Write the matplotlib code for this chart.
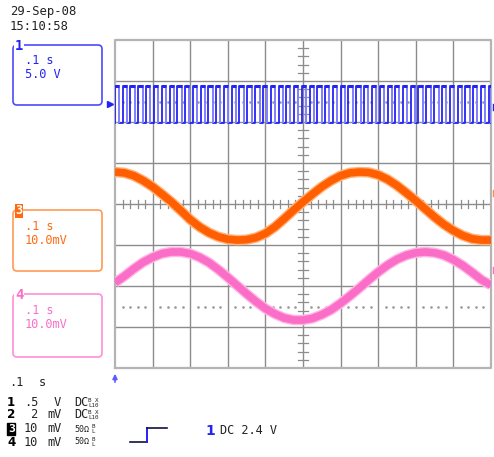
import matplotlib.pyplot as plt
from matplotlib.patches import FancyBboxPatch

# time axis: 10 divisions of 0.1 s, vertical: 8 divisions
rise_times = [0.000, 0.021, 0.041, 0.062, 0.083, 0.104, 0.124, 0.145, 0.166, 0.186,
              0.207, 0.228, 0.248, 0.269, 0.290, 0.311, 0.331, 0.352, 0.373, 0.393,
              0.414, 0.435, 0.455, 0.476, 0.497, 0.518, 0.538, 0.559, 0.580, 0.600,
              0.621, 0.642, 0.662, 0.683, 0.704, 0.725, 0.745, 0.766, 0.787, 0.807,
              0.828, 0.849, 0.869, 0.890, 0.911, 0.932, 0.952, 0.973, 0.994]
pulse_width = 0.0114
sq_high = 2.88
sq_low = 1.98

t_sine = [0.000, 0.025, 0.050, 0.075, 0.100, 0.125, 0.150, 0.175, 0.200, 0.225,
          0.250, 0.275, 0.300, 0.325, 0.350, 0.375, 0.400, 0.425, 0.450, 0.475,
          0.500, 0.525, 0.550, 0.575, 0.600, 0.625, 0.650, 0.675, 0.700, 0.725,
          0.750, 0.775, 0.800, 0.825, 0.850, 0.875, 0.900, 0.925, 0.950, 0.975, 1.000]
ch3 = [0.78, 0.76, 0.69, 0.57, 0.42, 0.24, 0.05, -0.16, -0.38, -0.56,
       -0.70, -0.80, -0.86, -0.88, -0.87, -0.82, -0.72, -0.56, -0.36, -0.15,
       0.05, 0.24, 0.42, 0.57, 0.69, 0.76, 0.78, 0.77, 0.71, 0.60,
       0.45, 0.27, 0.08, -0.12, -0.32, -0.50, -0.65, -0.77, -0.85, -0.88, -0.88]
ch4 = [-1.92, -1.76, -1.58, -1.42, -1.30, -1.21, -1.17, -1.17, -1.21, -1.30,
       -1.43, -1.60, -1.79, -1.99, -2.19, -2.38, -2.55, -2.68, -2.78, -2.83,
       -2.83, -2.79, -2.70, -2.58, -2.42, -2.24, -2.05, -1.85, -1.66, -1.49,
       -1.35, -1.25, -1.19, -1.17, -1.19, -1.25, -1.36, -1.50, -1.67, -1.85, -1.98]

BLUE = '#2323f5'
LBLUE = '#8a8aff'
ORANGE = '#ff5f00'
PINK = '#fa6ec8'
MONO = 'DejaVu Sans Mono'

fig = plt.figure(figsize=(4.94, 4.57), dpi=100)
fig.patch.set_facecolor('white')

# overlay in pixel coords for labels
ov = fig.add_axes([0, 0, 1, 1])
ov.set_xlim(0, 494)
ov.set_ylim(457, 0)
ov.axis('off')

ax = fig.add_axes([115 / 494, 1 - 368 / 457, 376 / 494, 328 / 457])
ax.set_xlim(0, 1.0)
ax.set_ylim(-4, 4)
ax.axis('off')
ax.patch.set_alpha(0)

# graticule
for i in range(1, 10):
    ax.axvline(i * 0.1, color='#8c8c8c', lw=1.0, zorder=1)
for j in range(-3, 4):
    ax.axhline(j, color='#8c8c8c', lw=1.0, zorder=1)
ax.plot([0, 1, 1, 0, 0], [-4, -4, 4, 4, -4], color='#b4b4b4', lw=1.6, zorder=1, clip_on=False)
minor_x = [k * 0.02 for k in range(1, 50) if k % 5]
minor_y = [k * 0.2 for k in range(-19, 20) if k % 5]
for x in minor_x:
    ax.plot([x, x], [-0.09, 0.09], color='#8c8c8c', lw=0.9, zorder=1)
    ax.plot([x], [2.5], marker='s', ms=0.8, color='#999999', zorder=1)
    ax.plot([x], [-2.5], marker='s', ms=0.8, color='#999999', zorder=1)
for y in minor_y:
    ax.plot([0.487, 0.513], [y, y], color='#8c8c8c', lw=0.9, zorder=1)

# channel 1 square wave
falls = [min(r + pulse_width, 1.0) for r in rise_times]
sx, sy = [], []
for r, f in zip(rise_times, falls):
    sx += [r, r, f, f]
    sy += [sq_low, sq_high, sq_high, sq_low]
sx.append(1.0)
sy.append(sq_low)
ax.plot(sx, sy, color=BLUE, lw=1.3, zorder=3)
ax.vlines(falls, sq_low, sq_high, color=LBLUE, lw=1.3, zorder=4)
ax.hlines([sq_high] * len(rise_times), rise_times, falls, color=BLUE, lw=2.2, zorder=4)

# channel 3 and 4
ax.plot(t_sine, ch3, color='#ffb27a', lw=7.5, solid_capstyle='butt', zorder=2)
ax.plot(t_sine, ch3, color=ORANGE, lw=5.5, solid_capstyle='butt', zorder=3)
ax.plot(t_sine, ch4, color='#ffb6e4', lw=7.5, solid_capstyle='butt', zorder=2)
ax.plot(t_sine, ch4, color=PINK, lw=5.5, solid_capstyle='butt', zorder=3)

# header
ov.text(10, 12, '29-Sep-08', family=MONO, fontsize=8.8, color='#222222', va='center')
ov.text(10, 27, '15:10:58', family=MONO, fontsize=8.8, color='#222222', va='center')


# channel boxes
def chan_box(y0, y1, col, tcol, num, line2, inverted=False):
    ov.add_patch(FancyBboxPatch((13, y0), 89, y1 - y0, boxstyle='round,pad=0,rounding_size=4',
                                fill=False, ec=col, lw=1.2))
    if inverted:
        ov.text(19, y0 + 1, num, family=MONO, fontsize=8.5, color='white', fontweight='bold',
                va='center', ha='center',
                bbox=dict(boxstyle='square,pad=0.05', fc=tcol, ec='none'))
    else:
        ov.text(19, y0 + 1, num, family=MONO, fontsize=10, color=tcol, fontweight='bold',
                va='center', ha='center', bbox=dict(boxstyle='square,pad=0.05', fc='white', ec='none'))
    ov.text(25, y0 + 16, '.1 s', family=MONO, fontsize=8.6, color=tcol, va='center')
    ov.text(25, y0 + 30, line2, family=MONO, fontsize=8.6, color=tcol, va='center')


chan_box(45, 105, '#4a4aff', BLUE, '1', '5.0 V')
chan_box(210, 271, '#ff9a55', '#ff6a10', '3', '10.0mV', inverted=True)
chan_box(294, 357, '#ff8fd6', PINK, '4', '10.0mV')

# trace markers
ov.plot([110], [104], marker='>', ms=5, color=BLUE)
ov.annotate('', xy=(115, 371), xytext=(115, 385),
            arrowprops=dict(arrowstyle='-|>', color='#5a5aff', lw=1.2, mutation_scale=7))
ov.plot([493, 493], [104, 110], color=BLUE, lw=1)
ov.plot([493, 493], [190, 196], color='#ff8a40', lw=1)
ov.plot([493, 493], [267, 273], color=PINK, lw=1)

# bottom info
ov.text(9, 382, '.1', family=MONO, fontsize=8.6, color='#222222', va='center')
ov.text(39, 382, 's', family=MONO, fontsize=8.6, color='#222222', va='center')
rows = [(403, '1', '.5', ' V', 'DC', 'B X\nL10'),
        (415, '2', ' 2', 'mV', 'DC', 'B X\nL10'),
        (429, '3', '10', 'mV', '50Ω', 'B\nL'),
        (442, '4', '10', 'mV', '50Ω', 'B\nL')]
for y, n, v, u, cpl, small in rows:
    if n == '3':
        ov.text(8, y, n, family=MONO, fontsize=8.2, color='white', fontweight='bold', va='center',
                bbox=dict(boxstyle='square,pad=0.05', fc='black', ec='black'))
    else:
        ov.text(7, y, n, family='DejaVu Sans', fontsize=8.6, color='black', fontweight='bold',
                va='center')
    ov.text(24, y, v, family=MONO, fontsize=8.6, color='#222222', va='center')
    ov.text(47, y, u, family=MONO, fontsize=8.6, color='#222222', va='center')
    if cpl == 'DC':
        ov.text(74, y, 'DC', family=MONO, fontsize=8.6, color='#222222', va='center')
        ov.text(88, y, small, family=MONO, fontsize=4.2, color='#222222', va='center',
                linespacing=0.9)
    else:
        ov.text(74, y, '50Ω', family=MONO, fontsize=6.0, color='#222222', va='center')
        ov.text(91, y, small, family=MONO, fontsize=4.2, color='#222222', va='center',
                linespacing=0.9)

# trigger symbol
ov.plot([130, 147], [442, 442], color='#111144', lw=1.2)
ov.plot([147, 147], [442, 428], color=BLUE, lw=1.4)
ov.plot([147, 167], [428, 428], color='#111144', lw=1.2)
ov.text(205, 431, '1', family='DejaVu Sans', fontsize=10, color=BLUE, fontweight='bold', va='center')
ov.text(220, 431, 'DC 2.4 V', family=MONO, fontsize=8.6, color='#222222', va='center')

fig.savefig('out.png', dpi=100, facecolor='white')
